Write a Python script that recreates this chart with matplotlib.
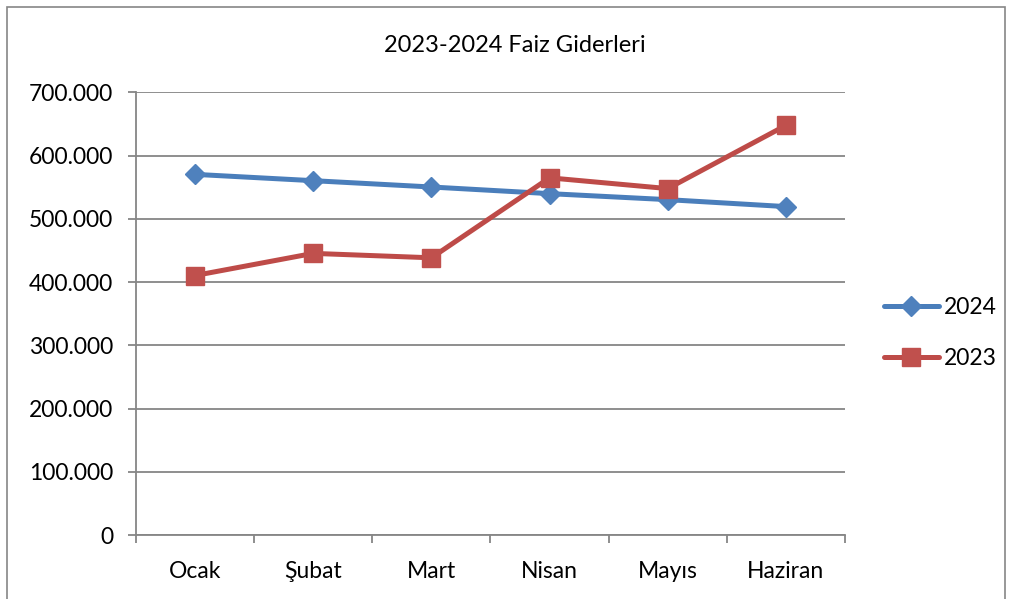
import matplotlib as mpl
import matplotlib.pyplot as plt
from matplotlib.patches import Rectangle
from matplotlib.ticker import FixedLocator, FuncFormatter

mpl.use('Agg')
plt.rcParams.update({'font.family': ['Lato', 'DejaVu Sans']})

months = ['Ocak', 'Şubat', 'Mart', 'Nisan', 'Mayıs', 'Haziran']
faiz_2024 = [570_500, 560_500, 550_500, 540_000, 530_500, 519_500]
faiz_2023 = [410_500, 445_500, 438_500, 565_000, 548_000, 648_000]
y_ticks = [0, 100_000, 200_000, 300_000, 400_000, 500_000, 600_000, 700_000]

grid_color = '#868686'
label_size = 16.5

fig = plt.figure(figsize=(10.12, 5.99), dpi=100)
ax = fig.add_axes([136 / 1012, 1 - 535 / 599, (845 - 136) / 1012, (535 - 92.5) / 599])

# chart border (bottom edge is off the picture)
fig.patches.append(Rectangle(
    (7 / 1012, -0.05), (1005 - 7) / 1012, 1.05 - 7 / 599,
    transform=fig.transFigure, fill=False, edgecolor=grid_color, linewidth=1.2,
))

x = list(range(len(months)))
ax.plot(x, faiz_2024, color='#4A7EBB', linewidth=3.6, marker='D', markersize=10.5,
        markerfacecolor='#4F81BD', markeredgecolor='#4F81BD', label='2024', solid_capstyle='round')
ax.plot(x, faiz_2023, color='#BE4B48', linewidth=3.6, marker='s', markersize=13.5,
        markerfacecolor='#C0504D', markeredgecolor='#C0504D', label='2023', solid_capstyle='round')

ax.set_xlim(-0.5, len(months) - 0.5)
ax.set_ylim(0, 700_000)
ax.set_yticks(y_ticks)
ax.yaxis.set_major_formatter(FuncFormatter(lambda v, _: f'{int(v):,}'.replace(',', '.')))
ax.grid(axis='y', color=grid_color, linewidth=1.3)
ax.set_axisbelow(True)

ax.set_xticks(x)
ax.set_xticklabels(months)
ax.xaxis.set_minor_locator(FixedLocator([i - 0.5 for i in range(len(months) + 1)]))
ax.tick_params(axis='x', which='major', length=0, pad=19, labelsize=label_size)
ax.tick_params(axis='x', which='minor', length=5.5, width=1.3, color=grid_color, direction='out')
ax.tick_params(axis='y', length=5.5, width=1.3, color=grid_color, labelsize=label_size, pad=11)

for side in ('top', 'right'):
    ax.spines[side].set_visible(False)
for side in ('left', 'bottom'):
    ax.spines[side].set_color(grid_color)
    ax.spines[side].set_linewidth(1.3)

fig.text(515 / 1012, 1 - 45 / 599, '2023-2024 Faiz Giderleri', ha='center', va='center', fontsize=17)

fig.legend(loc='center left', bbox_to_anchor=(884 / 1012, 1 - 333 / 599), frameon=False,
           borderaxespad=0, borderpad=0, fontsize=label_size, handlelength=2.4,
           handletextpad=0.2, labelspacing=1.3)

fig.savefig('out.png', dpi=100)
